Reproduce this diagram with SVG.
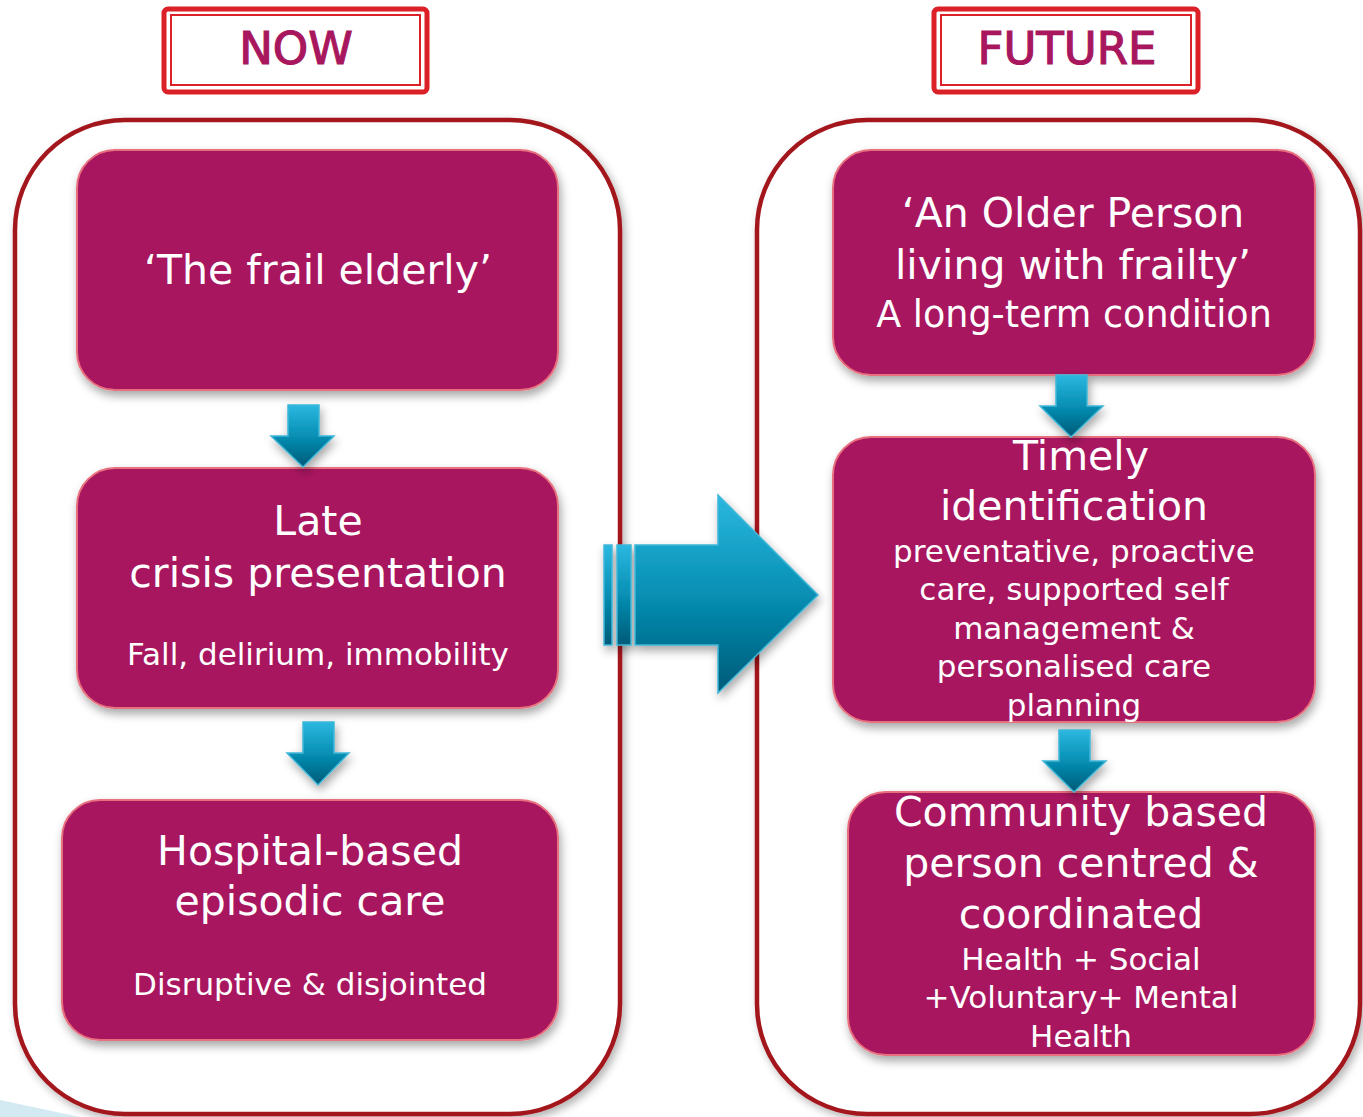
<svg xmlns="http://www.w3.org/2000/svg" width="1363" height="1117" viewBox="0 0 1363 1117">
<defs>
<linearGradient id="tg" x1="0" y1="0" x2="0" y2="1">
<stop offset="0" stop-color="#2bb8e0"/>
<stop offset="0.5" stop-color="#078fb4"/>
<stop offset="1" stop-color="#005a77"/>
</linearGradient>
<filter id="sh" x="-10%" y="-10%" width="125%" height="130%">
<feDropShadow dx="2" dy="5" stdDeviation="5" flood-color="#000" flood-opacity="0.35"/>
</filter>
<filter id="csh" x="-5%" y="-5%" width="110%" height="110%">
<feDropShadow dx="3" dy="4" stdDeviation="4" flood-color="#000" flood-opacity="0.3"/>
</filter>
<style>
.hdr{fill:#fff;stroke:#dc2028;stroke-width:5}
.hdri{fill:none;stroke:#dc2028;stroke-width:2}
.ht{font-family:"DejaVu Sans",sans-serif;font-size:45px;fill:#a8175e;stroke:#a8175e;stroke-width:1.2;text-anchor:middle}
.cont{fill:#fff;stroke:#a3171f;stroke-width:4.5}
.node{fill:#a8175e;stroke:#e8707e;stroke-width:2}
.big{font-family:"DejaVu Sans",sans-serif;font-size:41px;fill:#fff;text-anchor:middle}
.sm{font-family:"DejaVu Sans",sans-serif;font-size:31px;fill:#fff;text-anchor:middle}
.md{font-family:"DejaVu Sans",sans-serif;font-size:36.5px;fill:#fff;text-anchor:middle}
.arr{fill:url(#tg);stroke:#3fb7d8;stroke-width:1.5}
</style>
</defs>
<rect width="1363" height="1117" fill="#fff"/>
<polygon points="0,1100 80,1117 0,1117" fill="#d4eaf2"/>

<g id="now-header">
<rect class="hdr" x="164" y="9" width="263" height="83" rx="4"/>
<rect class="hdri" x="171" y="15" width="249" height="70"/>
<text class="ht" x="296" y="64">NOW</text>
</g>
<g id="future-header">
<rect class="hdr" x="934" y="9" width="264" height="83" rx="4"/>
<rect class="hdri" x="941" y="15" width="250" height="70"/>
<text class="ht" x="1067" y="64">FUTURE</text>
</g>

<g id="now-container">
<rect class="cont" x="15" y="120" width="605" height="994" rx="110" filter="url(#csh)"/>
</g>
<g id="future-container">
<rect class="cont" x="757" y="120" width="603" height="994" rx="110" filter="url(#csh)"/>
</g>

<g id="node-frail">
<rect class="node" x="77" y="150" width="481" height="240" rx="38" filter="url(#sh)"/>
<text class="big" x="318" y="284">‘The frail elderly’</text>
</g>
<g id="node-late">
<rect class="node" x="77" y="468" width="481" height="240" rx="38" filter="url(#sh)"/>
<text class="big" x="318" y="535">Late</text>
<text class="big" x="318" y="587">crisis presentation</text>
<text class="sm" x="318" y="665">Fall, delirium, immobility</text>
</g>
<g id="node-hospital">
<rect class="node" x="62" y="800" width="496" height="240" rx="38" filter="url(#sh)"/>
<text class="big" x="310" y="865">Hospital‑based</text>
<text class="big" x="310" y="915">episodic care</text>
<text class="sm" x="310" y="995">Disruptive &amp; disjointed</text>
</g>
<g id="node-older">
<rect class="node" x="833" y="150" width="482" height="225" rx="38" filter="url(#sh)"/>
<text class="big" x="1073" y="227">‘An Older Person</text>
<text class="big" x="1073" y="279">living with frailty’</text>
<text class="md" x="1074" y="327">A long-term condition</text>
</g>
<g id="node-timely">
<rect class="node" x="833" y="437" width="482" height="285" rx="38" filter="url(#sh)"/>
<text class="big" x="1081" y="470">Timely</text>
<text class="big" x="1074" y="520">identification</text>
<text class="sm" x="1074" y="562">preventative, proactive</text>
<text class="sm" x="1074" y="600">care, supported self</text>
<text class="sm" x="1074" y="639">management &amp;</text>
<text class="sm" x="1074" y="677">personalised care</text>
<text class="sm" x="1074" y="716">planning</text>
</g>
<g id="node-community">
<rect class="node" x="848" y="792" width="467" height="263" rx="38" filter="url(#sh)"/>
<text class="big" x="1081" y="826">Community based</text>
<text class="big" x="1081" y="877">person centred &amp;</text>
<text class="big" x="1081" y="928">coordinated</text>
<text class="sm" x="1081" y="970">Health + Social</text>
<text class="sm" x="1081" y="1008">+Voluntary+ Mental</text>
<text class="sm" x="1081" y="1047">Health</text>
</g>

<g id="connectors">
<polygon class="arr" filter="url(#sh)" points="288,405 319,405 319,436 334,436 303,467 271,436 288,436"/>
<polygon class="arr" filter="url(#sh)" points="303,722 334,722 334,753 349,753 318,785 287,753 303,753"/>
<polygon class="arr" filter="url(#sh)" points="1056,375 1087,375 1087,406 1103,406 1071,437 1040,406 1056,406"/>
<polygon class="arr" filter="url(#sh)" points="1059,730 1090,730 1090,761 1106,761 1074,792 1043,761 1059,761"/>
<g id="big-arrow" filter="url(#sh)">
<rect class="arr" x="604" y="545" width="8" height="100"/>
<rect class="arr" x="617" y="545" width="14" height="100"/>
<polygon class="arr" points="635,545 718,545 718,495 818,595 718,693 718,645 635,645"/>
</g>
</g>
</svg>
